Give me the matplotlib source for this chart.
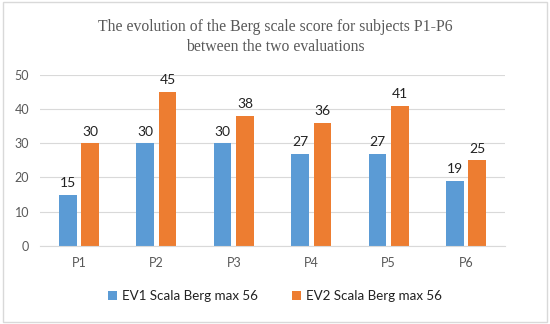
import matplotlib.pyplot as plt
import numpy as np
from matplotlib.patches import Rectangle

subjects = ["P1", "P2", "P3", "P4", "P5", "P6"]
ev1 = [15, 30, 30, 27, 27, 19]
ev2 = [30, 45, 38, 36, 41, 25]
labels = ["EV1 Scala Berg max 56", "EV2 Scala Berg max 56"]

plt.rcParams['font.family'] = ['Lato', 'DejaVu Sans']

fig = plt.figure(figsize=(5.5, 3.24), dpi=100)
ax = fig.add_axes([0.073, 0.241, 0.845, 0.528])

x = np.arange(len(subjects))
w = 0.23
b1 = ax.bar(x - 0.145, ev1, w, color="#5B9BD5", label=labels[0])
b2 = ax.bar(x + 0.145, ev2, w, color="#ED7D31", label=labels[1])
for bars in (b1, b2):
    ax.bar_label(bars, padding=4, fontsize=10, color="#222222")

ax.set_xlim(-0.5, len(subjects) - 0.5)
ax.set_ylim(0, 50)
ax.set_yticks(range(0, 51, 10))
ax.set_xticks(x)
ax.set_xticklabels(subjects)
ax.yaxis.grid(True, color="#d9d9d9", linewidth=0.8)
ax.set_axisbelow(True)
for s in ["top", "right", "left"]:
    ax.spines[s].set_visible(False)
ax.spines["bottom"].set_color("#d9d9d9")
ax.tick_params(length=0, labelsize=9, colors="#595959", pad=8)

fig.text(0.5, 0.885, "The evolution of the Berg scale score for subjects P1-P6\nbetween the two evaluations",
         ha="center", va="center", fontsize=11.3, family="Liberation Serif", color="#595959", linespacing=1.35)

fig.legend(loc="center", bbox_to_anchor=(0.5, 0.085), ncol=2, frameon=False, fontsize=9.6,
           handlelength=0.7, handleheight=0.7, columnspacing=2.5, handletextpad=0.4, labelcolor="#222222")

fig.patches.append(Rectangle((0.005, 0.005), 0.99, 0.99, transform=fig.transFigure,
                             fill=False, edgecolor="#d9d9d9", linewidth=1))

fig.savefig("out.png", dpi=100)
